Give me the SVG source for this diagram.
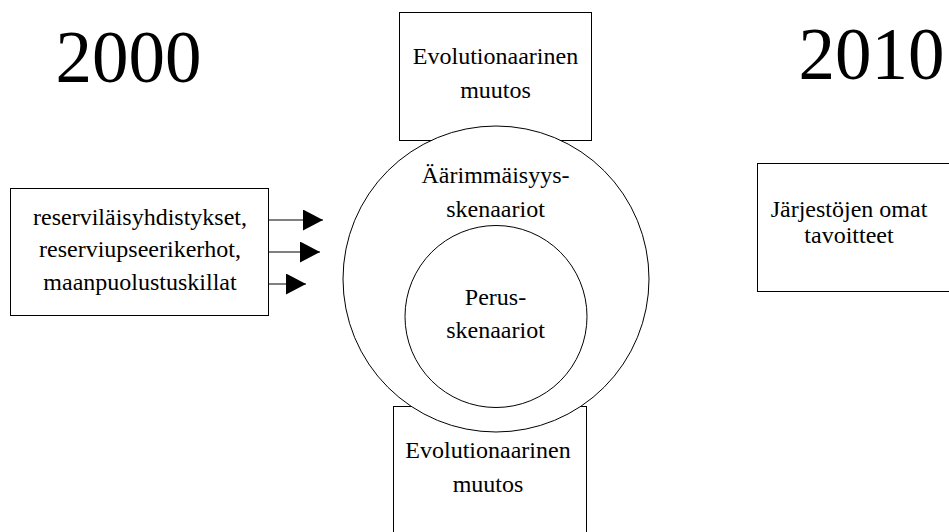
<svg xmlns="http://www.w3.org/2000/svg" width="949" height="532" viewBox="0 0 949 532">
<defs>
<style>
.box{fill:#fff;stroke:#000;stroke-width:1}
.circ{fill:#fff;stroke:#000;stroke-width:1}
.t{font-family:"Liberation Serif","Times New Roman",serif;font-size:24px;fill:#000;text-anchor:middle}
.yr{font-family:"Liberation Serif","Times New Roman",serif;font-size:73px;fill:#000;text-anchor:middle}
.conn{stroke:#000;stroke-width:1;fill:none}
</style>
<marker id="ah" viewBox="0 0 20 21" refX="20" refY="10.5" markerWidth="20" markerHeight="21" markerUnits="userSpaceOnUse" orient="auto">
<path d="M0,0 L20,10.5 L0,21 Z" fill="#000"/>
</marker>
</defs>
<rect width="949" height="532" fill="#fff"/>
<g id="year2000"><text class="yr" x="128.5" y="82">2000</text></g>
<g id="year2010"><text class="yr" x="871.5" y="79">2010</text></g>
<g id="evo-top">
<rect class="box" x="399.5" y="12.5" width="192" height="128"/>
<text class="t" x="495.5" y="64">Evolutionaarinen</text>
<text class="t" x="495.5" y="98">muutos</text>
</g>
<g id="evo-bottom">
<rect class="box" x="393.5" y="406.5" width="193" height="140"/>
<text class="t" x="488" y="458">Evolutionaarinen</text>
<text class="t" x="488" y="492">muutos</text>
</g>
<g id="aarimmaisyys">
<circle class="circ" cx="496" cy="279" r="153"/>
<text class="t" x="495.5" y="183">Äärimmäisyys-</text>
<text class="t" x="495.5" y="217">skenaariot</text>
</g>
<g id="perus">
<circle class="circ" cx="496" cy="316.5" r="91"/>
<text class="t" x="495.5" y="305">Perus-</text>
<text class="t" x="495.5" y="338">skenaariot</text>
</g>
<g id="jarjestot">
<rect class="box" x="10.5" y="188.5" width="258" height="127"/>
<text class="t" x="140" y="225">reserviläisyhdistykset,</text>
<text class="t" x="140" y="257">reserviupseerikerhot,</text>
<text class="t" x="140" y="290">maanpuolustuskillat</text>
</g>
<g id="tavoitteet">
<rect class="box" x="757.5" y="163.5" width="220" height="128"/>
<text class="t" x="849" y="217">Järjestöjen omat</text>
<text class="t" x="849" y="243">tavoitteet</text>
</g>
<g id="connectors">
<line class="conn" x1="269" y1="220" x2="323" y2="220" marker-end="url(#ah)"/>
<line class="conn" x1="269" y1="252" x2="320" y2="252" marker-end="url(#ah)"/>
<line class="conn" x1="269" y1="284" x2="306" y2="284" marker-end="url(#ah)"/>
</g>
</svg>
